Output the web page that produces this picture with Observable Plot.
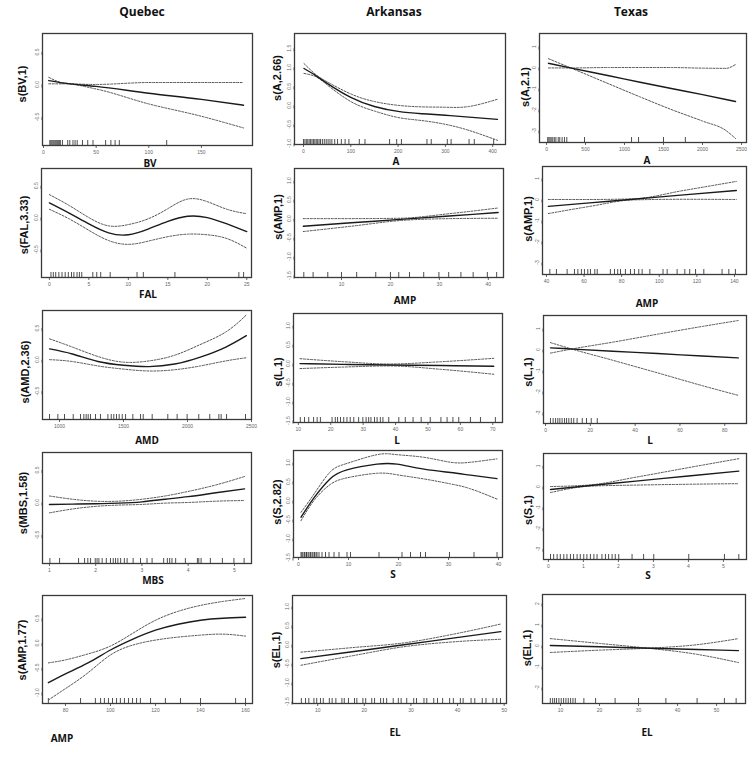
<!DOCTYPE html>
<html><head><meta charset="utf-8">
<script src="https://cdn.jsdelivr.net/npm/d3@7"></script>
<script src="https://cdn.jsdelivr.net/npm/@observablehq/plot@0.6"></script>
<style>
body{margin:0;background:#fff;}
#root{position:relative;width:753px;height:764px;overflow:hidden;font-family:"Liberation Sans",Arial,sans-serif;}
.t{position:absolute;white-space:nowrap;color:#111;}
.col{font-family:"Open Sans",sans-serif;font-weight:700;font-size:12px;transform:translate(-50%,-50%);}
.xl{font-family:"Open Sans",sans-serif;font-weight:700;font-size:10px;transform:translate(-50%,-50%);}
.yl{font-weight:700;font-size:11px;transform:translate(-50%,-50%) rotate(-90deg);}
</style></head><body><div id="root"></div>
<script>
// ---------- data ----------
const columns = ["Quebec", "Arkansas", "Texas"];

// Quebec
const qBV_x = [5, 20, 50, 100, 150, 190];
const qBV_fit = [0.06, 0.02, -0.03, -0.135, -0.23, -0.32];
const qBV_up = [0.11, 0.02, 0.0, 0.03, 0.03, 0.03];
const qBV_lo = [0.01, 0.01, -0.07, -0.3, -0.49, -0.67];
const qBV_rug = [6,7,8,9,10,11,12,13,14,15,16,18,23,25,28,30,32,37,42,47,59,64,68,72,117];

const qFAL_x = [0, 2.5, 5, 7.5, 10, 12.5, 15, 17.5, 20, 22.5, 25];
const qFAL_fit = [0.23, 0.07, -0.1, -0.24, -0.27, -0.18, -0.06, 0.02, 0.0, -0.1, -0.22];
const qFAL_up = [0.36, 0.19, 0.0, -0.13, -0.11, -0.02, 0.14, 0.29, 0.25, 0.13, 0.06];
const qFAL_lo = [0.13, -0.02, -0.2, -0.36, -0.42, -0.37, -0.3, -0.26, -0.27, -0.33, -0.48];
const qFAL_rug = [0.2,0.5,0.8,1.2,1.6,2,2.4,2.8,3.1,3.5,3.8,4.1,5.5,6,6.5,7.7,11.1,11.9,15.9,24,24.6];

const qAMD_x = [922, 1100, 1300, 1500, 1700, 1900, 2100, 2300, 2460];
const qAMD_fit = [0.17, 0.09, -0.03, -0.09, -0.11, -0.07, 0.04, 0.2, 0.38];
const qAMD_up = [0.33, 0.2, 0.05, -0.04, -0.02, 0.07, 0.24, 0.44, 0.71];
const qAMD_lo = [0.0, -0.03, -0.1, -0.15, -0.18, -0.16, -0.1, -0.02, 0.03];
const qAMD_rug = [922,987,1039,1107,1164,1190,1208,1224,1242,1281,1320,1378,1404,1424,1445,1466,1490,1516,1573,1633,1654,1724,1846,1919,1997,2088,2174,2245,2263,2305,2453];

const qMBS_x = [1, 1.5, 2, 2.5, 3, 3.5, 4, 4.6, 5.22];
const qMBS_fit = [-0.03, -0.025, -0.02, -0.01, 0.01, 0.05, 0.09, 0.15, 0.21];
const qMBS_up = [0.1, 0.05, 0.02, 0.02, 0.05, 0.1, 0.17, 0.27, 0.4];
const qMBS_lo = [-0.16, -0.1, -0.06, -0.04, -0.03, -0.01, 0.0, 0.02, 0.03];
const qMBS_rug = [1.01,1.22,1.63,1.76,1.83,1.89,1.99,2.03,2.07,2.14,2.23,2.32,2.38,2.43,2.48,2.54,2.62,2.68,2.81,2.97,3.11,3.22,3.47,3.55,3.6,3.65,3.73,3.94,4.2,4.23,4.28,4.48,4.74,4.99,5.21];

const qAMP_x = [72.4, 80, 90, 100, 110, 120, 130, 140, 150, 160];
const qAMP_fit = [-0.8, -0.62, -0.4, -0.14, 0.08, 0.26, 0.38, 0.46, 0.5, 0.52];
const qAMP_up = [-0.4, -0.34, -0.22, -0.06, 0.2, 0.46, 0.64, 0.76, 0.84, 0.9];
const qAMP_lo = [-1.15, -0.92, -0.6, -0.24, -0.04, 0.06, 0.12, 0.16, 0.18, 0.14];
const qAMP_rug = [72.4,86.7,93.3,95.6,97.3,99.1,100.9,102.7,104.4,106.2,108,109.8,111.6,113.3,117.8,124.4,131.1,140,155.6,160];

// Arkansas
const aA_x = [1, 25, 50, 100, 150, 200, 250, 300, 350, 410];
const aA_fit = [0.97, 0.79, 0.58, 0.21, -0.03, -0.16, -0.22, -0.26, -0.31, -0.37];
const aA_up = [1.1, 0.82, 0.62, 0.3, 0.1, 0.0, -0.04, -0.05, -0.03, 0.16];
const aA_lo = [0.84, 0.76, 0.54, 0.1, -0.15, -0.32, -0.4, -0.5, -0.66, -0.92];
const aA_rug = [0,3,6,9,12,15,18,21,24,27,30,33,36,40,44,48,52,56,60,66,72,80,88,96,118,130,182,197,207,261,270,304,312,350,361,402];

const aAMP_x = [2.2, 12, 22, 32, 42];
const aAMP_fit = [-0.2, -0.11, -0.02, 0.07, 0.16];
const aAMP_up = [0.0, 0.0, 0.01, 0.13, 0.28];
const aAMP_lo = [-0.34, -0.2, -0.05, 0.0, 0.01];
const aAMP_rug = [2.3,4.2,7.2,10,13.1,17,20,21.7,23.9,26.8,29.9,31.9,34.4,36.9,39.8,41.7];

const aL_x = [10.5, 24, 38, 54, 70.3];
const aL_fit = [0.0, -0.02, -0.035, -0.05, -0.07];
const aL_up = [0.13, 0.05, -0.01, 0.05, 0.14];
const aL_lo = [-0.13, -0.09, -0.06, -0.15, -0.28];
const aL_rug = [10.6,11.9,13.2,14.7,15.8,16.8,20.4,21.4,22.1,23,24,25,26,27.1,28.6,29.9,30.9,31.7,32.4,33.5,34.3,35.3,36.1,37.9,41,43,45.4,47.9,50.7,54,55.9,57.7,59.5,63.1,66.2,70.8];

const aS_x = [0.5, 3.2, 6.3, 9.7, 15.7, 19.7, 25.1, 30.4, 34.4, 39.7];
const aS_fit = [-0.44, 0.09, 0.57, 0.81, 0.96, 0.96, 0.83, 0.74, 0.67, 0.58];
const aS_up = [-0.31, 0.19, 0.75, 0.98, 1.21, 1.21, 1.14, 1.01, 1.01, 1.1];
const aS_lo = [-0.53, 0.02, 0.42, 0.6, 0.72, 0.68, 0.57, 0.44, 0.31, 0.04];
const aS_rug = [0.5,0.7,0.9,1.2,1.5,1.6,1.9,2.1,2.4,2.7,2.9,3.2,3.5,3.7,4.1,4.7,5.4,6.1,7.1,8.1,9.7,10.4,16.1,20.7,22.4,24.4,25.4,30.2,35.1,39.7];

const aEL_x = [6.4, 17, 28.9, 39, 49.3];
const aEL_fit = [-0.37, -0.195, 0.0, 0.17, 0.34];
const aEL_up = [-0.2, -0.085, 0.05, 0.27, 0.54];
const aEL_lo = [-0.545, -0.305, -0.05, 0.07, 0.14];
const aEL_rug = [6.5,7.4,8.1,9.2,9.8,10.6,11.2,12.5,13.1,13.9,15.2,15.7,16.6,17.9,18.4,19.7,20.3,21.6,22.2,23.5,24.1,24.8,26.2,27.3,27.9,29.1,30.6,31.2,32.8,33.4,34.9,35.7,36.8,38.3,39.1,40.6,41.2,42.9,43.7,45.3,46.1,47.6,48.4,49.2];

// Texas
const tA_x = [25, 350, 800, 1200, 1600, 2000, 2300, 2423];
const tA_fit = [0.2, -0.05, -0.39, -0.7, -1.0, -1.29, -1.52, -1.62];
const tA_up = [-0.02, -0.02, 0.0, 0.0, 0.0, -0.03, -0.04, 0.14];
const tA_lo = [0.42, -0.08, -0.78, -1.4, -2.0, -2.55, -3.0, -3.38];
const tA_rug = [15,30,45,60,80,100,120,150,170,200,230,260,487,1090,1180,1500,1780];

const tAMP_x = [41, 63, 86, 113, 141];
const tAMP_fit = [-0.33, -0.16, 0.01, 0.22, 0.43];
const tAMP_up = [0.0, 0.0, 0.03, 0.43, 0.86];
const tAMP_lo = [-0.67, -0.33, -0.02, 0.01, 0.0];
const tAMP_rug = [41.8,45.3,51,54.9,56.7,58.6,60.2,62,63.4,65.7,67,74,76.2,77.9,79.4,82,84.7,86.8,89.1,90.9,95,102,104.2,109.5,113.6,116.2,119.3,123.7,133.4,137,140.5];

const tL_x = [2.2, 12.5, 30, 50, 70, 86];
const tL_fit = [0.08, 0.02, -0.08, -0.19, -0.31, -0.4];
const tL_up = [-0.17, 0.04, 0.35, 0.73, 1.1, 1.38];
const tL_lo = [0.33, 0.0, -0.51, -1.11, -1.72, -2.18];
const tL_rug = [2.2,3.4,4.5,5.5,6.4,7.4,8.5,9.4,10.4,11.5,12.6,14.1,16.4,18.3,20.4,23.1];

const tS_x = [0.06, 1.2, 2.5, 4, 5.44];
const tS_fit = [-0.14, 0.05, 0.26, 0.51, 0.74];
const tS_up = [0.0, 0.08, 0.45, 0.91, 1.34];
const tS_lo = [-0.29, 0.02, 0.07, 0.11, 0.14];
const tS_rug = [0.06,0.15,0.25,0.34,0.44,0.53,0.63,0.72,0.82,0.91,1.01,1.1,1.2,1.3,1.39,1.53,1.63,1.72,1.82,1.91,2.01,2.39,2.72,3.01,4.01,5.03,5.44];

const tEL_x = [7.4, 20, 31, 45, 55.6];
const tEL_fit = [0.0, -0.06, -0.12, -0.19, -0.24];
const tEL_up = [0.33, 0.1, -0.1, -0.42, -0.81];
const tEL_lo = [-0.33, -0.22, -0.14, 0.04, 0.33];
const tEL_rug = [7.4,8,8.5,9,9.6,10.2,10.8,11.4,12,12.6,13.2,13.8,16,19,24,30,37,45,52,55];

// tick values
const ticks_qBV = [0, 50, 100, 150], ticks_qBVy = [-0.5, 0, 0.5];
const ticks_qFAL = [0, 5, 10, 15, 20, 25], ticks_qFALy = [-0.5, 0, 0.5];
const ticks_qAMD = [1000, 1500, 2000, 2500], ticks_qAMDy = [-0.5, 0, 0.5];
const ticks_qMBS = [1, 2, 3, 4, 5], ticks_qMBSy = [-0.5, 0, 0.5];
const ticks_qAMP = [80, 100, 120, 140, 160], ticks_qAMPy = [-1, -0.5, 0, 0.5];
const ticks_aA = [0, 100, 200, 300, 400], ticks_aAy = [-1, -0.5, 0, 0.5, 1, 1.5];
const ticks_aAMP = [10, 20, 30, 40], ticks_aAMPy = [-1.5, -1, -0.5, 0, 0.5, 1];
const ticks_aL = [10, 20, 30, 40, 50, 60, 70], ticks_aLy = [-1.5, -1, -0.5, 0, 0.5, 1];
const ticks_aS = [0, 10, 20, 30, 40], ticks_aSy = [-1.5, -1, -0.5, 0, 0.5, 1];
const ticks_aEL = [10, 20, 30, 40, 50], ticks_aELy = [-1.5, -1, -0.5, 0, 0.5, 1];
const ticks_tA = [0, 500, 1000, 1500, 2000, 2500], ticks_tAy = [-3, -2, -1, 0, 1];
const ticks_tAMP = [40, 60, 80, 100, 120, 140], ticks_tAMPy = [-3, -2, -1, 0, 1];
const ticks_tL = [0, 20, 40, 60, 80], ticks_tLy = [-3, -2, -1, 0, 1];
const ticks_tS = [0, 1, 2, 3, 4, 5], ticks_tSy = [-3, -2, -1, 0, 1];
const ticks_tEL = [10, 20, 30, 40, 50], ticks_tELy = [-2, -1, 0, 1, 2];

// ---------- layout ----------
const panels = [
  {x:qBV_x,fit:qBV_fit,up:qBV_up,lo:qBV_lo,rug:qBV_rug,xt:ticks_qBV,yt:ticks_qBVy,box:[42,33,252,145],xd:[-0.95,198.5],yd:[-0.94,0.785],curve:"monotone-x",xl:["BV",150,163],yl:["s(BV,1)",22,84]},
  {x:aA_x,fit:aA_fit,up:aA_up,lo:aA_lo,rug:aA_rug,xt:ticks_aA,yt:ticks_aAy,box:[294,33,505,144],xd:[-19,427],yd:[-1.03,1.89],curve:"natural",xl:["A",396,161],yl:["s(A,2.66)",277,78]},
  {x:tA_x,fit:tA_fit,up:tA_up,lo:tA_lo,rug:tA_rug,xt:ticks_tA,yt:ticks_tAy,box:[539,33,746,142],xd:[-90,2564],yd:[-3.57,1.62],curve:"monotone-x",xl:["A",647,160],yl:["s(A,2.1)",525,87]},

  {x:qFAL_x,fit:qFAL_fit,up:qFAL_up,lo:qFAL_lo,rug:qFAL_rug,xt:ticks_qFAL,yt:ticks_qFALy,box:[41,168,251,277],xd:[-1.0,25.6],yd:[-0.94,0.77],curve:"natural",xl:["FAL",148,294],yl:["s(FAL,3.33)",24,225]},
  {x:aAMP_x,fit:aAMP_fit,up:aAMP_up,lo:aAMP_lo,rug:aAMP_rug,xt:ticks_aAMP,yt:ticks_aAMPy,box:[294,168,503,277],xd:[0.4,43.1],yd:[-1.55,1.32],curve:"monotone-x",xl:["AMP",405,300],yl:["s(AMP,1)",278,217]},
  {x:tAMP_x,fit:tAMP_fit,up:tAMP_up,lo:tAMP_lo,rug:tAMP_rug,xt:ticks_tAMP,yt:ticks_tAMPy,box:[542,166,746,274],xd:[37.9,146.4],yd:[-3.57,1.57],curve:"monotone-x",xl:["AMP",647,303],yl:["s(AMP,1)",528,219]},

  {x:qAMD_x,fit:qAMD_fit,up:qAMD_up,lo:qAMD_lo,rug:qAMD_rug,xt:ticks_qAMD,yt:ticks_qAMDy,box:[42,310,251,419],xd:[867,2500],yd:[-0.95,0.78],curve:"natural",xl:["AMD",147,440],yl:["s(AMD,2.36)",25,372]},
  {x:aL_x,fit:aL_fit,up:aL_up,lo:aL_lo,rug:aL_rug,xt:ticks_aL,yt:ticks_aLy,box:[293,313,502,422],xd:[8.5,73],yd:[-1.55,1.32],curve:"monotone-x",xl:["L",397,440],yl:["s(L,1)",278,372]},
  {x:tL_x,fit:tL_fit,up:tL_up,lo:tL_lo,rug:tL_rug,xt:ticks_tL,yt:ticks_tLy,box:[543,315,746,423],xd:[-0.9,89.7],yd:[-3.52,1.62],curve:"monotone-x",xl:["L",650,440],yl:["s(L,1)",528,372]},

  {x:qMBS_x,fit:qMBS_fit,up:qMBS_up,lo:qMBS_lo,rug:qMBS_rug,xt:ticks_qMBS,yt:ticks_qMBSy,box:[42,452,251,563],xd:[0.85,5.37],yd:[-0.94,0.77],curve:"natural",xl:["MBS",153,580],yl:["s(MBS,1.58)",23,503]},
  {x:aS_x,fit:aS_fit,up:aS_up,lo:aS_lo,rug:aS_rug,xt:ticks_aS,yt:ticks_aSy,box:[293,450,502,557],xd:[-1,40.8],yd:[-1.5,1.32],curve:"natural",xl:["S",393,574],yl:["s(S,2.82)",277,502]},
  {x:tS_x,fit:tS_fit,up:tS_up,lo:tS_lo,rug:tS_rug,xt:ticks_tS,yt:ticks_tSy,box:[543,453,746,559],xd:[-0.14,5.66],yd:[-3.51,1.59],curve:"monotone-x",xl:["S",648,575],yl:["s(S,1)",528,510]},

  {x:qAMP_x,fit:qAMP_fit,up:qAMP_up,lo:qAMP_lo,rug:qAMP_rug,xt:ticks_qAMP,yt:ticks_qAMPy,box:[42,595,252,703],xd:[69.8,163.1],yd:[-1.22,0.96],curve:"natural",xl:["AMP",62,738],yl:["s(AMP,1.77)",22,650]},
  {x:aEL_x,fit:aEL_fit,up:aEL_up,lo:aEL_lo,rug:aEL_rug,xt:ticks_aEL,yt:ticks_aELy,box:[292,595,506,703],xd:[4.6,50.5],yd:[-1.55,1.29],curve:"monotone-x",xl:["EL",395,732],yl:["s(EL,1)",276,650]},
  {x:tEL_x,fit:tEL_fit,up:tEL_up,lo:tEL_lo,rug:tEL_rug,xt:ticks_tEL,yt:ticks_tELy,box:[542,594,745,703],xd:[5.4,57.4],yd:[-2.76,2.43],curve:"monotone-x",xl:["EL",647,732],yl:["s(EL,1)",527,648]}
];

const root = document.getElementById("root");
function addText(cls, txt, x, y){
  const d = document.createElement("div");
  d.className = "t " + cls; d.textContent = txt;
  d.style.left = x + "px"; d.style.top = y + "px";
  root.appendChild(d);
}
[[columns[0],142,11],[columns[1],394,11],[columns[2],631,11]].forEach(c => addText("col", c[0], c[1], c[2]));

const fmtInt = d => String(d);
const fmtDec = d => d.toFixed(1);
const mL = 16, mB = 16, mT = 3, mR = 3;
for (const p of panels) {
  const [l, t, r, b] = p.box;
  const rows = p.x.map((x, i) => ({x, fit: p.fit[i], up: p.up[i], lo: p.lo[i]}));
  const boxH = b - t;
  const yFmt = p.yt.some(v => !Number.isInteger(v)) ? fmtDec : fmtInt;
  const svg = Plot.plot({
    width: r - l + mL + mR, height: b - t + mT + mB,
    marginLeft: mL, marginRight: mR, marginTop: mT, marginBottom: mB,
    style: {background: "transparent", fontFamily: "Liberation Sans, Arial, sans-serif", overflow: "visible"},
    x: {domain: p.xd, label: null},
    y: {domain: p.yd, label: null},
    marks: [
      Plot.axisX({ticks: p.xt, tickFormat: fmtInt, tickSize: 3, tickPadding: 2, fontSize: 5, color: "#666", label: null}),
      Plot.axisY({ticks: p.yt, tickFormat: yFmt, tickSize: 3, tickPadding: 2, fontSize: 5, rotate: -90, textAnchor: "middle", color: "#666", label: null}),
      Plot.tickX(p.rug, {x: d => d, insetTop: boxH - 5, stroke: "#222", strokeWidth: 0.8}),
      Plot.line(rows, {x: "x", y: "up", curve: p.curve, stroke: "#555", strokeWidth: 1, strokeDasharray: "2,1.5", clip: true}),
      Plot.line(rows, {x: "x", y: "lo", curve: p.curve, stroke: "#555", strokeWidth: 1, strokeDasharray: "2,1.5", clip: true}),
      Plot.line(rows, {x: "x", y: "fit", curve: p.curve, stroke: "#1a1a1a", strokeWidth: 1.4, clip: true}),
      Plot.frame({stroke: "#3a3a3a", strokeWidth: 1.3})
    ]
  });
  svg.style.position = "absolute";
  svg.style.left = (l - mL) + "px";
  svg.style.top = (t - mT) + "px";
  root.appendChild(svg);
  addText("xl", p.xl[0], p.xl[1], p.xl[2]);
  addText("yl", p.yl[0], p.yl[1], p.yl[2]);
}
</script></body></html>
